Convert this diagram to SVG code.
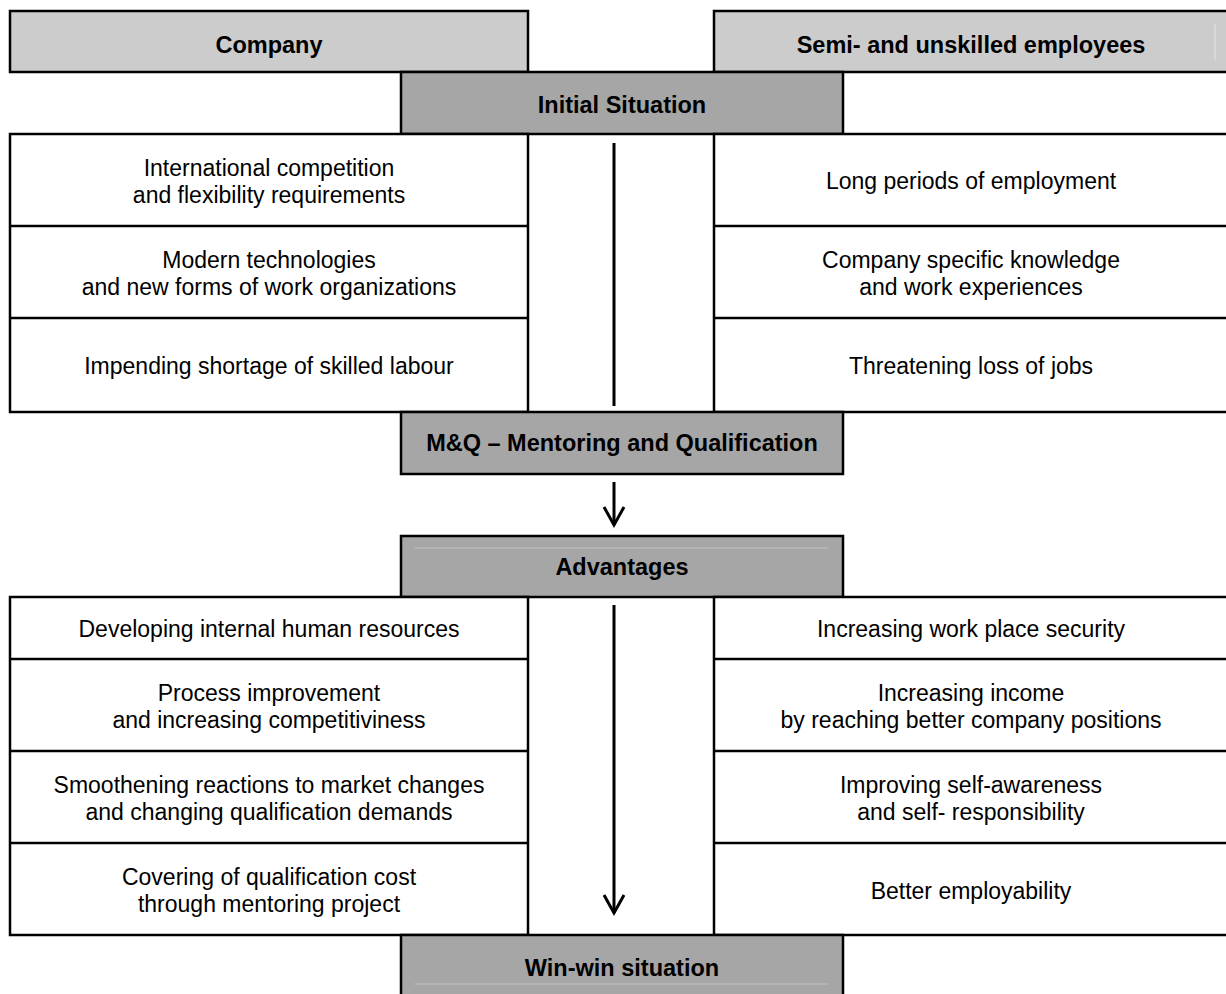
<svg xmlns="http://www.w3.org/2000/svg" width="1226" height="994" viewBox="0 0 1226 994">
<style>
.box{fill:#ffffff;stroke:#000;stroke-width:2.5}
.hdr{fill:#cccccc;stroke:#000;stroke-width:2.5}
.mid{fill:#a6a6a6;stroke:#000;stroke-width:2.5}
.div{stroke:#000;stroke-width:2.5}
.faint{stroke:#c4c4c4;stroke-width:1}
.faintw{stroke:#e6e6e6;stroke-width:1}
text{font-family:"Liberation Sans",Arial,Helvetica,sans-serif;fill:#000;text-anchor:middle}
.b{font-weight:bold;font-size:23.5px}
.t{font-size:23px}
.arrow{stroke:#000;stroke-width:3;fill:none}
</style>
<defs>
<marker id="vhead" markerUnits="userSpaceOnUse" markerWidth="40" markerHeight="40" refX="0" refY="0" orient="auto" viewBox="-20 -20 40 40" overflow="visible">
<path d="M-18,-10 L0,0 L-18,10" fill="none" stroke="#000" stroke-width="3"/>
</marker>
</defs>
<rect width="1226" height="994" fill="#ffffff"/>

<g id="header-company">
<rect class="hdr" x="10" y="11" width="518" height="61"/>
<text class="b" x="269" y="53">Company</text>
</g>
<g id="header-employees">
<rect class="hdr" x="714" y="11" width="530" height="61"/>
<line class="faintw" x1="1215" y1="24" x2="1215" y2="60"/>
<text class="b" x="971" y="53">Semi- and unskilled employees</text>
</g>

<g id="initial-situation">
<rect class="mid" x="401" y="72" width="442" height="62"/>
<text class="b" x="622" y="113">Initial Situation</text>
</g>

<g id="initial-company">
<rect class="box" x="10" y="134" width="518" height="278"/>
<line class="div" x1="10" y1="226" x2="528" y2="226"/>
<line class="div" x1="10" y1="318" x2="528" y2="318"/>
<text class="t" x="269" y="176">International competition</text>
<text class="t" x="269" y="203">and flexibility requirements</text>
<text class="t" x="269" y="268">Modern technologies</text>
<text class="t" x="269" y="295">and new forms of work organizations</text>
<text class="t" x="269" y="374">Impending shortage of skilled labour</text>
</g>

<g id="initial-employees">
<rect class="box" x="714" y="134" width="530" height="278"/>
<line class="div" x1="714" y1="226" x2="1244" y2="226"/>
<line class="div" x1="714" y1="318" x2="1244" y2="318"/>
<text class="t" x="971" y="189">Long periods of employment</text>
<text class="t" x="971" y="268">Company specific knowledge</text>
<text class="t" x="971" y="295">and work experiences</text>
<text class="t" x="971" y="374">Threatening loss of jobs</text>
</g>

<g id="mq">
<rect class="mid" x="401" y="412" width="442" height="62"/>
<text class="b" x="622" y="451">M&amp;Q – Mentoring and Qualification</text>
</g>

<g id="advantages">
<rect class="mid" x="401" y="536" width="442" height="61"/>
<line class="faint" x1="415" y1="548" x2="828" y2="548"/>
<text class="b" x="622" y="575">Advantages</text>
</g>

<g id="adv-company">
<rect class="box" x="10" y="597" width="518" height="338"/>
<line class="div" x1="10" y1="659" x2="528" y2="659"/>
<line class="div" x1="10" y1="751" x2="528" y2="751"/>
<line class="div" x1="10" y1="843" x2="528" y2="843"/>
<text class="t" x="269" y="637">Developing internal human resources</text>
<text class="t" x="269" y="701">Process improvement</text>
<text class="t" x="269" y="728">and increasing competitiviness</text>
<text class="t" x="269" y="793">Smoothening reactions to market changes</text>
<text class="t" x="269" y="820">and changing qualification demands</text>
<text class="t" x="269" y="885">Covering of qualification cost</text>
<text class="t" x="269" y="912">through mentoring project</text>
</g>

<g id="adv-employees">
<rect class="box" x="714" y="597" width="530" height="338"/>
<line class="div" x1="714" y1="659" x2="1244" y2="659"/>
<line class="div" x1="714" y1="751" x2="1244" y2="751"/>
<line class="div" x1="714" y1="843" x2="1244" y2="843"/>
<text class="t" x="971" y="637">Increasing work place security</text>
<text class="t" x="971" y="701">Increasing income</text>
<text class="t" x="971" y="728">by reaching better company positions</text>
<text class="t" x="971" y="793">Improving self-awareness</text>
<text class="t" x="971" y="820">and self- responsibility</text>
<text class="t" x="971" y="899">Better employability</text>
</g>

<g id="win-win">
<rect class="mid" x="401" y="935" width="442" height="80"/>
<line class="faint" x1="415" y1="984" x2="828" y2="984"/>
<text class="b" x="622" y="976">Win-win situation</text>
</g>

<g id="connectors">
<line class="arrow" x1="614" y1="143" x2="614" y2="406"/>
<line class="arrow" x1="614" y1="482" x2="614" y2="525" marker-end="url(#vhead)"/>
<line class="arrow" x1="614" y1="605" x2="614" y2="913" marker-end="url(#vhead)"/>
</g>
</svg>
